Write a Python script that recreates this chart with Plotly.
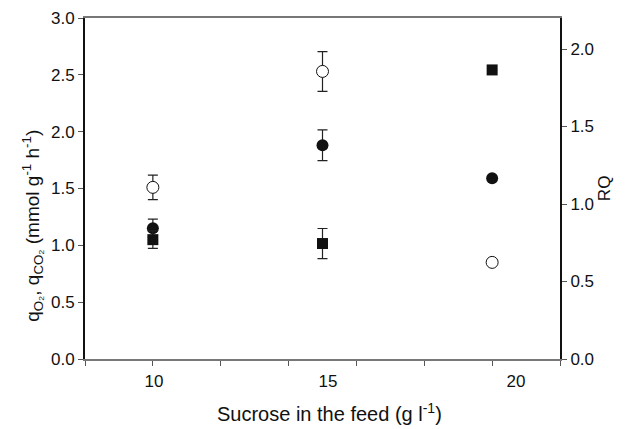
import plotly.graph_objects as go

# Data
sucrose = [10, 15, 20]
q_o2 = [1.51, 2.53, 0.85]          # open circles (left axis)
q_o2_err = [0.107, 0.175, 0.0]
q_co2 = [1.15, 1.88, 1.59]         # filled circles (left axis)
q_co2_err = [0.08, 0.135, 0.0]
rq = [0.77, 0.745, 1.865]          # filled squares (right axis)
rq_err = [0.056, 0.097, 0.0]

x_tick_vals = [8, 10, 12, 14, 16, 18, 20, 22]
x_label_pos = [10.03, 15.16, 20.7]
x_label_text = ["10", "15", "20"]
y_left_ticks = [0.0, 0.5, 1.0, 1.5, 2.0, 2.5, 3.0]
y_right_ticks = [0.0, 0.5, 1.0, 1.5, 2.0]

FONT = "Liberation Sans, Arial, sans-serif"
ERRC = "#222222"
TICKF = 17

fig = go.Figure()

fig.add_trace(go.Scatter(
    x=sucrose, y=q_co2, mode="markers",
    marker=dict(symbol="circle", size=12, color="#111111", line=dict(width=0)),
    error_y=dict(type="data", array=q_co2_err, color=ERRC, thickness=1.2, width=5),
    xaxis="x", yaxis="y", showlegend=False))

fig.add_trace(go.Scatter(
    x=sucrose, y=q_o2, mode="markers",
    marker=dict(symbol="circle", size=12, color="white", line=dict(width=1, color="#111111")),
    error_y=dict(type="data", array=q_o2_err, color=ERRC, thickness=1.2, width=5),
    xaxis="x", yaxis="y", showlegend=False))

fig.add_trace(go.Scatter(
    x=sucrose, y=rq, mode="markers",
    marker=dict(symbol="square", size=11, color="#111111", line=dict(width=0)),
    error_y=dict(type="data", array=rq_err, color=ERRC, thickness=1.2, width=5),
    xaxis="x", yaxis="y2", showlegend=False))

# invisible trace to carry the label axis
fig.add_trace(go.Scatter(x=x_label_pos, y=[None] * len(x_label_pos), mode="markers",
                         xaxis="x2", yaxis="y", showlegend=False, hoverinfo="skip"))

fig.update_layout(
    width=617, height=421,
    margin=dict(l=77, r=65, t=10, b=70, autoexpand=False),
    paper_bgcolor="white", plot_bgcolor="white",
    font=dict(family=FONT, size=TICKF, color="#111111"),
    xaxis=dict(range=[8, 22], tickvals=x_tick_vals, showticklabels=False,
               ticks="outside", ticklen=5, tickwidth=1.2, tickcolor="#555555",
               showline=True, linecolor="#777777", linewidth=1.5, mirror=True,
               showgrid=False, zeroline=False),
    xaxis2=dict(range=[8, 22], overlaying="x", side="bottom",
                tickvals=x_label_pos, ticktext=x_label_text, ticks="",
                ticklabelstandoff=10,
                showline=False, showgrid=False, zeroline=False,
                tickfont=dict(size=TICKF)),
    yaxis=dict(range=[0, 3.0], tickvals=y_left_ticks, tickformat=".1f",
               ticks="outside", ticklen=5, tickwidth=1.2, tickcolor="#555555",
               showline=True, linecolor="#111111", linewidth=2,
               showgrid=False, zeroline=False, tickfont=dict(size=TICKF)),
    yaxis2=dict(range=[0, 2.2], tickvals=y_right_ticks, tickformat=".1f",
                overlaying="y", side="right",
                ticks="outside", ticklen=5, tickwidth=1.2, tickcolor="#555555",
                showline=True, linecolor="#111111", linewidth=2,
                showgrid=False, zeroline=False, tickfont=dict(size=TICKF)),
    annotations=[
        dict(text="q<sub>O₂</sub>, q<sub>CO₂</sub> (mmol g<sup>-1</sup> h<sup>-1</sup>)",
             textangle=-90, xref="paper", yref="paper", x=-0.112, y=0.39,
             showarrow=False, font=dict(size=19), xanchor="center", yanchor="middle"),
        dict(text="Sucrose in the feed (g l<sup>-1</sup>)",
             xref="paper", yref="paper", x=0.515, y=-0.157,
             showarrow=False, font=dict(size=20), xanchor="center", yanchor="middle"),
        dict(text="RQ", textangle=-90,
             xref="paper", yref="paper", x=1.094, y=0.5,
             showarrow=False, font=dict(size=17), xanchor="center", yanchor="middle"),
    ],
)

fig.write_html("out.html")
